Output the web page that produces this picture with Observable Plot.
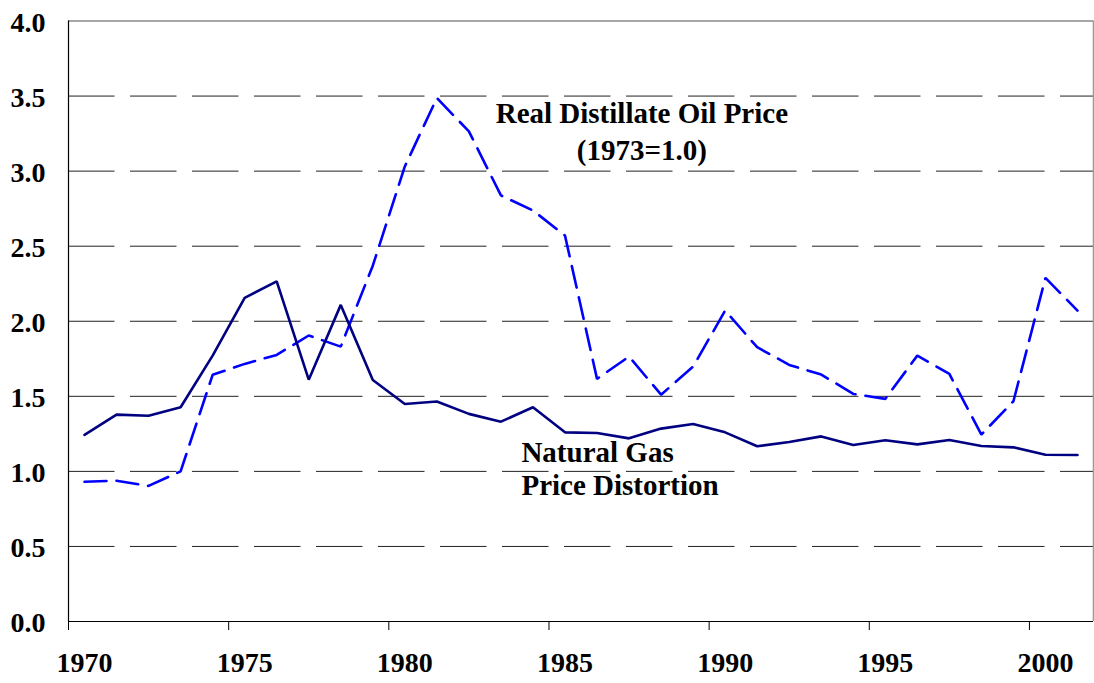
<!DOCTYPE html>
<html>
<head>
<meta charset="utf-8">
<script src="https://cdn.jsdelivr.net/npm/d3@7"></script>
<script src="https://cdn.jsdelivr.net/npm/@observablehq/plot@0.6"></script>
<style>
  html, body { margin: 0; padding: 0; background: #fff; }
  #chart svg { display: block; }
</style>
</head>
<body>
<div id="chart"></div>
<script>
const years = d3.range(1970, 2002);
const naturalGas = [1.243, 1.378, 1.371, 1.427, 1.771, 2.156, 2.265, 1.611, 2.109, 1.609,
  1.449, 1.465, 1.383, 1.331, 1.427, 1.260, 1.256, 1.220, 1.285, 1.316,
  1.260, 1.167, 1.196, 1.233, 1.176, 1.207, 1.180, 1.209, 1.169, 1.160,
  1.111, 1.109];
const distillateOil = [0.931, 0.938, 0.903, 1.000, 1.643, 1.716, 1.776, 1.905, 1.831, 2.37,
  3.031, 3.487, 3.265, 2.838, 2.738, 2.571, 1.616, 1.765, 1.511, 1.698,
  2.071, 1.827, 1.709, 1.645, 1.516, 1.483, 1.771, 1.649, 1.245, 1.467,
  2.289, 2.071];
const yTicks = [0, 0.5, 1, 1.5, 2, 2.5, 3, 3.5, 4];
const gridValues = [0.5, 1, 1.5, 2, 2.5, 3, 3.5];
const xTicks = [1970, 1975, 1980, 1985, 1990, 1995, 2000];
const oilLabel = "Real Distillate Oil Price\n(1973=1.0)";
const gasLabel = "Natural Gas\nPrice Distortion";

const rows = years.map((year, i) => ({year, gas: naturalGas[i], oil: distillateOil[i]}));

const chart = Plot.plot({
  width: 1094,
  height: 683,
  marginLeft: 68,
  marginRight: 1,
  marginTop: 20.5,
  marginBottom: 62,
  style: {fontFamily: "'Liberation Serif', 'Times New Roman', serif", background: "#fff"},
  x: {domain: [1970, 2002], axis: null},
  y: {domain: [0, 4], axis: null},
  marks: [
    Plot.ruleY(gridValues, {stroke: "#222", strokeWidth: 1, strokeDasharray: "46.5,15.5"}),
    Plot.ruleY([4], {stroke: "#888", strokeWidth: 1.5}),
    Plot.ruleX([2002], {stroke: "#999", strokeWidth: 1.5}),
    Plot.ruleX([1970], {stroke: "#000", strokeWidth: 1.2}),
    Plot.ruleY([0], {stroke: "#000", strokeWidth: 1.2}),
    Plot.axisY({ticks: yTicks, tickSize: 9, tickPadding: 14, tickFormat: d3.format(".1f"),
      fontSize: 28, fontWeight: "bold", fill: "#000", stroke: null, dy: 2}),
    Plot.axisX({ticks: xTicks, tickSize: 9, tickFormat: () => "", label: null}),
    Plot.text(xTicks, {x: d => d + 0.5, frameAnchor: "bottom", dy: 42, text: d => String(d),
      fontSize: 28, fontWeight: "bold", fill: "#000", lineAnchor: "middle"}),
    Plot.line(rows, {x: d => d.year + 0.5, y: "oil", stroke: "#0000ff", strokeWidth: 2.6,
      strokeDasharray: "22,10", strokeLinejoin: "miter"}),
    Plot.line(rows, {x: d => d.year + 0.5, y: "gas", stroke: "#000080", strokeWidth: 2.6,
      strokeLinejoin: "miter"}),
    Plot.text([oilLabel], {x: 1987.9, y: 3.49, text: d => d, textAnchor: "middle",
      lineAnchor: "top", lineHeight: 1.25, fontSize: 29, fontWeight: "bold", fill: "#000"}),
    Plot.text([gasLabel], {x: 1984.14, y: 1.222, text: d => d, textAnchor: "start",
      lineAnchor: "top", lineHeight: 1.15, fontSize: 29, fontWeight: "bold", fill: "#000"})
  ]
});
document.getElementById("chart").appendChild(chart);
</script>
</body>
</html>
